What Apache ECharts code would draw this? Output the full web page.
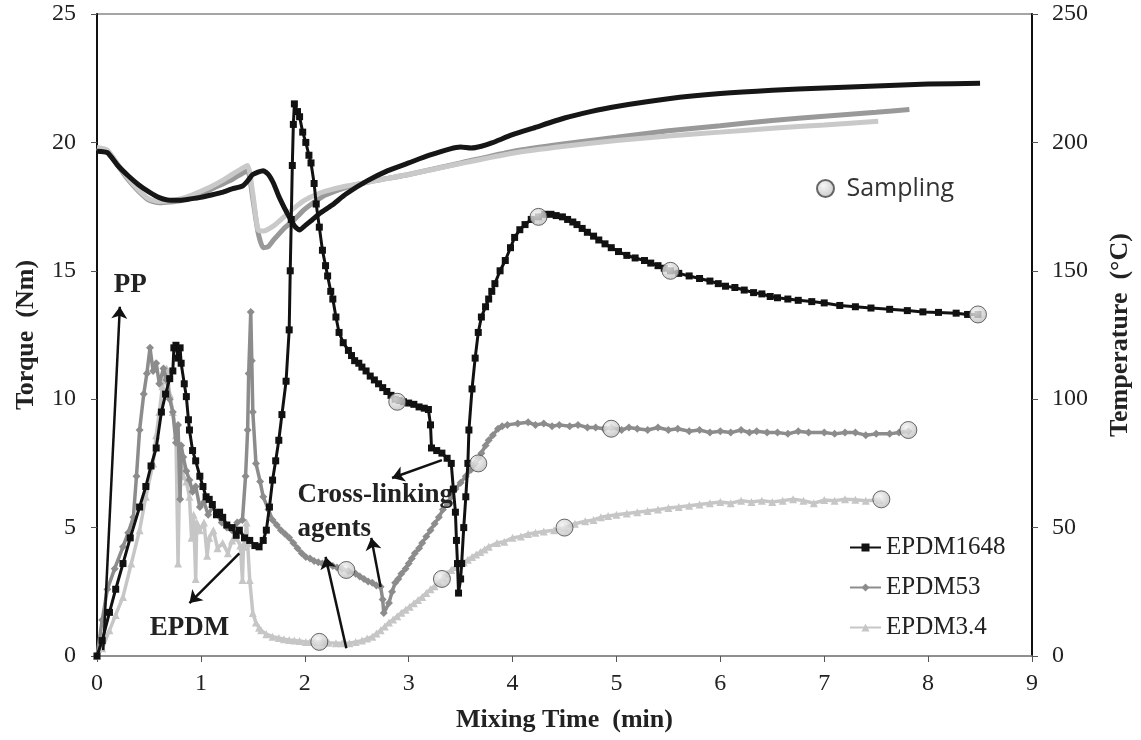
<!DOCTYPE html>
<html>
<head>
<meta charset="utf-8">
<script src="https://cdn.jsdelivr.net/npm/echarts@6/dist/echarts.min.js"></script>
<style>
  html, body { margin: 0; padding: 0; background: #fff; }
  #chart { width: 1141px; height: 740px; }
</style>
</head>
<body>
<div id="chart"></div>
<script>
// torque, [min, Nm]
var torque1648 = [[0,0],[0.05,0.6],[0.12,1.7],[0.18,2.6],[0.25,3.6],[0.32,4.6],[0.41,5.8],[0.47,6.6],[0.52,7.4],[0.57,8.1],[0.62,9.5],[0.66,10.2],[0.7,10.8],[0.73,11.1],[0.74,12.0],[0.76,12.1],[0.78,11.6],[0.8,12.0],[0.81,11.4],[0.84,10.6],[0.86,10.1],[0.88,9.2],[0.89,8.8],[0.92,8.0],[0.95,7.6],[0.99,7.0],[1.02,6.6],[1.05,6.2],[1.08,6.1],[1.11,5.9],[1.15,5.5],[1.18,5.6],[1.21,5.4],[1.25,5.1],[1.3,5.0],[1.34,4.7],[1.37,4.9],[1.42,4.6],[1.47,4.5],[1.52,4.3],[1.56,4.25],[1.6,4.5],[1.63,4.9],[1.66,5.8],[1.69,6.85],[1.72,7.6],[1.75,8.4],[1.78,9.4],[1.82,10.7],[1.85,12.7],[1.86,15.0],[1.87,17.0],[1.88,19.1],[1.89,20.7],[1.9,21.5],[1.93,21.2],[1.95,21.0],[1.98,20.4],[2.01,20.0],[2.04,19.5],[2.06,19.2],[2.09,18.4],[2.11,17.6],[2.14,16.7],[2.17,15.8],[2.2,15.2],[2.22,14.8],[2.25,14.2],[2.27,13.9],[2.3,13.2],[2.33,12.6],[2.37,12.2],[2.42,11.9],[2.45,11.7],[2.48,11.5],[2.52,11.4],[2.55,11.25],[2.59,11.1],[2.63,10.9],[2.67,10.75],[2.71,10.6],[2.75,10.45],[2.79,10.3],[2.83,10.15],[2.87,10.0],[2.91,9.95],[2.95,9.9],[3.0,9.85],[3.05,9.8],[3.1,9.7],[3.15,9.65],[3.19,9.6],[3.21,9.0],[3.22,8.1],[3.27,8.0],[3.32,7.9],[3.37,7.7],[3.41,7.5],[3.43,6.5],[3.45,5.6],[3.46,4.5],[3.47,3.6],[3.48,2.45],[3.5,3.0],[3.51,3.6],[3.53,5.0],[3.55,6.2],[3.57,7.5],[3.58,8.8],[3.61,10.4],[3.64,11.6],[3.67,12.6],[3.7,13.2],[3.74,13.6],[3.77,13.9],[3.8,14.2],[3.83,14.5],[3.88,15.0],[3.93,15.4],[3.98,15.9],[4.02,16.3],[4.07,16.6],[4.12,16.8],[4.18,17.0],[4.25,17.1],[4.31,17.2],[4.37,17.2],[4.42,17.15],[4.48,17.1],[4.53,17.0],[4.58,16.9],[4.62,16.8],[4.67,16.65],[4.72,16.5],[4.78,16.35],[4.83,16.2],[4.89,16.05],[4.95,15.9],[5.02,15.75],[5.1,15.6],[5.18,15.5],[5.27,15.4],[5.33,15.3],[5.4,15.2],[5.46,15.1],[5.52,15.0],[5.6,14.9],[5.7,14.8],[5.8,14.7],[5.9,14.6],[5.98,14.5],[6.05,14.4],[6.14,14.35],[6.23,14.25],[6.32,14.15],[6.4,14.1],[6.48,14.0],[6.55,13.95],[6.65,13.9],[6.75,13.85],[6.88,13.8],[7.0,13.75],[7.15,13.65],[7.3,13.6],[7.45,13.55],[7.63,13.5],[7.8,13.45],[7.95,13.4],[8.1,13.38],[8.27,13.35],[8.38,13.3],[8.48,13.3]];

var torque53 = [[0,0],[0.05,1.4],[0.1,2.6],[0.17,3.4],[0.25,4.25],[0.3,4.8],[0.35,5.4],[0.38,7.0],[0.41,8.8],[0.45,10.2],[0.48,11.0],[0.51,12.0],[0.54,11.1],[0.57,11.4],[0.6,10.6],[0.64,11.2],[0.67,10.75],[0.7,10.0],[0.73,9.5],[0.76,8.3],[0.78,9.0],[0.8,6.1],[0.81,8.2],[0.83,7.75],[0.86,7.2],[0.89,6.85],[0.92,6.4],[0.95,6.6],[0.99,5.8],[1.03,6.0],[1.07,5.5],[1.11,5.8],[1.15,5.56],[1.2,5.2],[1.25,5.0],[1.3,4.9],[1.35,5.2],[1.4,5.3],[1.43,7.0],[1.45,8.8],[1.46,11.0],[1.48,13.4],[1.49,11.5],[1.5,9.5],[1.53,7.5],[1.57,6.8],[1.6,6.2],[1.65,5.7],[1.69,5.3],[1.73,5.1],[1.77,4.9],[1.81,4.75],[1.85,4.6],[1.89,4.4],[1.93,4.2],[1.97,4.0],[2.01,3.86],[2.05,3.8],[2.09,3.7],[2.13,3.65],[2.17,3.6],[2.22,3.55],[2.27,3.5],[2.31,3.45],[2.36,3.4],[2.42,3.3],[2.49,3.2],[2.53,3.1],[2.57,3.0],[2.61,2.9],[2.65,2.85],[2.69,2.75],[2.73,2.7],[2.75,2.2],[2.76,1.67],[2.81,2.06],[2.84,2.5],[2.87,2.85],[2.9,3.0],[2.93,3.2],[2.97,3.4],[3.0,3.6],[3.03,3.8],[3.06,4.0],[3.1,4.2],[3.13,4.4],[3.17,4.65],[3.21,4.9],[3.25,5.15],[3.29,5.4],[3.33,5.7],[3.37,5.95],[3.41,6.2],[3.45,6.5],[3.5,6.75],[3.55,7.0],[3.6,7.25],[3.64,7.5],[3.67,7.7],[3.7,7.9],[3.74,8.2],[3.77,8.4],[3.81,8.6],[3.86,8.85],[3.9,8.95],[3.95,9.0],[4.05,9.05],[4.15,9.1],[4.22,9.0],[4.3,9.05],[4.38,8.95],[4.45,9.0],[4.55,8.95],[4.63,9.0],[4.72,8.9],[4.8,8.9],[4.88,8.85],[4.95,8.9],[5.05,8.8],[5.12,8.9],[5.2,8.85],[5.3,8.8],[5.4,8.9],[5.5,8.8],[5.59,8.85],[5.7,8.75],[5.8,8.8],[5.9,8.7],[6.0,8.75],[6.1,8.7],[6.2,8.8],[6.28,8.7],[6.35,8.75],[6.45,8.7],[6.55,8.7],[6.65,8.65],[6.75,8.75],[6.85,8.7],[7.0,8.7],[7.1,8.65],[7.2,8.7],[7.3,8.7],[7.4,8.6],[7.5,8.65],[7.63,8.65],[7.72,8.7],[7.81,8.75]];

var torque34 = [[0,0],[0.05,0.3],[0.12,1.0],[0.18,1.6],[0.25,2.3],[0.33,3.6],[0.41,4.9],[0.47,6.2],[0.54,7.5],[0.57,8.6],[0.6,9.5],[0.63,10.5],[0.67,11.2],[0.7,10.2],[0.73,9.5],[0.76,8.6],[0.78,3.6],[0.8,8.1],[0.83,7.0],[0.86,6.8],[0.89,6.2],[0.91,4.6],[0.93,5.5],[0.95,3.0],[0.96,5.2],[0.99,4.9],[1.03,5.2],[1.06,3.9],[1.08,4.6],[1.12,4.9],[1.16,4.2],[1.21,4.4],[1.26,4.0],[1.3,4.5],[1.34,4.6],[1.38,4.3],[1.4,2.96],[1.41,4.25],[1.43,4.8],[1.44,5.2],[1.45,4.4],[1.47,2.96],[1.5,1.67],[1.53,1.3],[1.56,1.1],[1.58,1.0],[1.63,0.85],[1.69,0.75],[1.75,0.7],[1.8,0.65],[1.85,0.62],[1.9,0.6],[1.95,0.58],[2.01,0.55],[2.05,0.55],[2.1,0.55],[2.17,0.55],[2.23,0.52],[2.3,0.5],[2.36,0.5],[2.43,0.5],[2.49,0.55],[2.55,0.6],[2.6,0.68],[2.65,0.75],[2.69,0.88],[2.73,1.0],[2.77,1.15],[2.81,1.3],[2.85,1.42],[2.89,1.55],[2.93,1.68],[2.97,1.8],[3.01,1.92],[3.05,2.05],[3.09,2.18],[3.13,2.3],[3.17,2.45],[3.21,2.6],[3.25,2.72],[3.29,2.85],[3.33,3.05],[3.37,3.2],[3.41,3.35],[3.45,3.47],[3.49,3.55],[3.53,3.65],[3.57,3.75],[3.61,3.86],[3.65,3.95],[3.69,4.05],[3.73,4.15],[3.77,4.25],[3.85,4.4],[3.92,4.45],[4.0,4.6],[4.08,4.65],[4.15,4.75],[4.22,4.8],[4.3,4.85],[4.4,4.9],[4.5,5.0],[4.6,5.15],[4.7,5.25],[4.78,5.3],[4.85,5.4],[4.92,5.45],[5.0,5.5],[5.1,5.55],[5.2,5.6],[5.3,5.65],[5.4,5.7],[5.5,5.76],[5.6,5.8],[5.7,5.85],[5.8,5.9],[5.9,5.95],[6.0,6.0],[6.1,5.95],[6.2,6.05],[6.3,6.0],[6.4,6.05],[6.5,6.0],[6.6,6.05],[6.7,6.1],[6.8,6.05],[6.9,5.95],[7.0,6.07],[7.1,6.05],[7.2,6.1],[7.3,6.08],[7.4,6.05],[7.53,6.07]];

// temperature, [min, °C]
var temp1648 = [[0,196.6],[0.1,196],[0.2,191],[0.3,187],[0.4,183.5],[0.5,180.7],[0.6,178.5],[0.7,177.5],[0.8,177.5],[0.9,178],[1.0,178.6],[1.1,179.5],[1.2,180.5],[1.3,181.9],[1.4,183],[1.45,185],[1.5,187.5],[1.6,189],[1.65,187.5],[1.7,184],[1.75,179],[1.8,174.8],[1.85,171],[1.9,167.5],[1.95,165.9],[2.0,167.5],[2.07,169.8],[2.15,172.5],[2.26,175.5],[2.4,180],[2.6,185],[2.8,189],[3.0,192],[3.2,195],[3.4,197.5],[3.5,198.2],[3.6,197.8],[3.7,198.5],[3.8,199.8],[4.0,203],[4.2,205.6],[4.5,209.5],[4.75,212],[5.0,214],[5.5,217],[6.0,219],[6.5,220.3],[7.0,221.2],[7.5,222],[8.0,222.7],[8.5,223]];

var temp53 = [[0,197.8],[0.1,196.5],[0.2,191],[0.3,185.5],[0.4,181],[0.5,177.5],[0.6,176.5],[0.7,176.8],[0.8,177.3],[0.9,178.5],[1.0,180],[1.1,181.8],[1.2,183.6],[1.3,185.5],[1.4,188],[1.45,189],[1.5,178],[1.55,165],[1.6,159],[1.65,159.5],[1.7,162],[1.8,166.5],[1.9,170],[2.0,174],[2.1,177],[2.2,179.5],[2.4,182.5],[2.6,184.5],[2.8,186],[3.0,187.5],[3.5,192],[4.0,196.5],[4.5,199.5],[5.0,202],[5.5,204.5],[6.0,206.5],[6.5,208.5],[7.0,210.2],[7.5,211.7],[7.82,212.8]];

var temp34 = [[0,198],[0.1,197],[0.2,191.5],[0.3,186],[0.4,181.5],[0.5,178],[0.6,177],[0.7,177.3],[0.8,178],[0.9,179.3],[1.0,181],[1.1,182.8],[1.2,185],[1.3,187.5],[1.4,190],[1.45,191],[1.5,180],[1.55,166],[1.6,165.5],[1.7,167.5],[1.8,171],[1.9,174.5],[2.0,177.5],[2.1,179.5],[2.2,181],[2.4,183],[2.6,184.5],[2.8,186],[3.0,187.5],[3.5,191.8],[4.0,195.8],[4.5,198.5],[5.0,200.7],[5.5,202.5],[6.0,204],[6.5,205.5],[7.0,206.8],[7.52,208.2]];

var sampling = [[2.89,9.9],[4.25,17.1],[5.52,15.0],[8.48,13.3],[2.4,3.35],[3.67,7.5],[4.95,8.85],[7.81,8.8],[2.14,0.55],[3.32,3.0],[4.5,5.0],[7.55,6.1]];

var xTicks = [0, 9, 1];
var torqueTicks = [0, 25, 5];
var tempTicks = [0, 250, 50];

var serif = '"Liberation Serif", "DejaVu Serif", serif';

var myChart = echarts.init(document.getElementById('chart'));

function arrow(a, b) {
    return [{ coord: a }, { coord: b }];
}

var tickText = { fontFamily: serif, fontSize: 24, color: '#222' };
var nameText = { fontFamily: serif, fontSize: 26, fontWeight: 'bold', color: '#222' };

option = {
    animation: false,
    backgroundColor: '#fff',
    grid: {
        left: 97,
        right: 105,
        top: 14,
        bottom: 84,
        show: true,
        borderColor: '#888',
        borderWidth: 1.5
    },
    legend: [{
        data: ['EPDM1648', 'EPDM53', 'EPDM3.4'],
        orient: 'vertical',
        left: 844,
        top: 530,
        itemWidth: 31,
        itemHeight: 10,
        itemGap: 15,
        textStyle: { fontFamily: serif, fontSize: 25, lineHeight: 25, color: '#222' }
    }, {
        data: ['Sampling'],
        left: 811,
        top: 171,
        itemWidth: 32,
        itemHeight: 17,
        itemGap: 0,
        textStyle: { fontFamily: '"Open Sans", "Liberation Sans", sans-serif', fontSize: 25, color: '#333' }
    }],
    xAxis: {
        type: 'value',
        min: xTicks[0],
        max: xTicks[1],
        interval: xTicks[2],
        name: 'Mixing Time  (min)',
        nameLocation: 'middle',
        nameGap: 51,
        nameTextStyle: nameText,
        axisLine: { lineStyle: { color: '#888', width: 1.5 } },
        axisTick: { length: 6, lineStyle: { color: '#555' } },
        axisLabel: Object.assign({ margin: 16 }, tickText),
        splitLine: { show: false }
    },
    yAxis: [{
        type: 'value',
        min: torqueTicks[0],
        max: torqueTicks[1],
        interval: torqueTicks[2],
        name: 'Torque  (Nm)',
        nameLocation: 'middle',
        nameRotate: 90,
        nameGap: 58,
        nameTextStyle: nameText,
        axisLine: { show: true, lineStyle: { color: '#111', width: 2 } },
        axisTick: { show: true, length: 6, lineStyle: { color: '#555' } },
        axisLabel: Object.assign({ margin: 21 }, tickText),
        splitLine: { show: false }
    }, {
        type: 'value',
        position: 'right',
        min: tempTicks[0],
        max: tempTicks[1],
        interval: tempTicks[2],
        name: 'Temperature  (°C)',
        nameLocation: 'middle',
        nameRotate: 90,
        nameGap: 75,
        nameTextStyle: nameText,
        axisLine: { show: true, lineStyle: { color: '#111', width: 2 } },
        axisTick: { show: true, length: 6, lineStyle: { color: '#555' } },
        axisLabel: Object.assign({ margin: 20 }, tickText),
        splitLine: { show: false }
    }],
    series: [
        // temperature curves
        {
            name: 'EPDM53 T',
            type: 'line',
            yAxisIndex: 1,
            data: temp53,
            showSymbol: false,
            smooth: 0.2,
            lineStyle: { color: '#999', width: 5 },
            itemStyle: { color: '#999' },
            z: 2
        },
        {
            name: 'EPDM3.4 T',
            type: 'line',
            yAxisIndex: 1,
            data: temp34,
            showSymbol: false,
            smooth: 0.2,
            lineStyle: { color: '#c9c9c9', width: 5 },
            itemStyle: { color: '#c9c9c9' },
            z: 2
        },
        {
            name: 'EPDM1648 T',
            type: 'line',
            yAxisIndex: 1,
            data: temp1648,
            showSymbol: false,
            smooth: 0.2,
            lineStyle: { color: '#161616', width: 5 },
            itemStyle: { color: '#161616' },
            z: 2
        },
        // torque curves
        {
            name: 'EPDM3.4',
            type: 'line',
            data: torque34,
            symbol: 'triangle',
            symbolSize: 8,
            showAllSymbol: true,
            lineStyle: { color: '#c6c6c6', width: 3.5 },
            itemStyle: { color: '#c6c6c6' },
            z: 3
        },
        {
            name: 'EPDM53',
            type: 'line',
            data: torque53,
            symbol: 'diamond',
            symbolSize: 8,
            showAllSymbol: true,
            lineStyle: { color: '#8c8c8c', width: 3.5 },
            itemStyle: { color: '#8c8c8c' },
            z: 4
        },
        {
            name: 'EPDM1648',
            type: 'line',
            data: torque1648,
            symbol: 'rect',
            symbolSize: 7,
            showAllSymbol: true,
            lineStyle: { color: '#111', width: 3 },
            itemStyle: { color: '#111' },
            z: 5
        },
        // annotations
        {
            name: 'notes',
            type: 'line',
            data: [],
            silent: true,
            z: 6,
            markLine: {
                silent: true,
                symbol: ['none', 'arrow'],
                symbolSize: 12,
                label: { show: false },
                lineStyle: { color: '#111', width: 2.5, type: 'solid' },
                data: [
                    arrow([0.06, 0.23], [0.22, 13.6]),
                    arrow([1.37, 4.0], [0.89, 2.06]),
                    arrow([3.32, 7.63], [2.84, 6.93]),
                    arrow([2.4, 0.3], [2.2, 3.86]),
                    arrow([2.73, 2.69], [2.64, 4.6])
                ]
            },
            markPoint: {
                silent: true,
                symbol: 'circle',
                symbolSize: 0,
                label: {
                    show: true,
                    fontFamily: serif,
                    fontSize: 27,
                    fontWeight: 'bold',
                    color: '#222'
                },
                data: [
                    { coord: [0.32, 14.45], label: { formatter: 'PP' } },
                    { coord: [0.89, 1.1], label: { formatter: 'EPDM' } },
                    { coord: [1.93, 6.3], label: { formatter: 'Cross-linking\nagents', align: 'left', lineHeight: 34, verticalAlign: 'top', offset: [0, -16] } }
                ]
            }
        },
        {
            name: 'Sampling',
            type: 'scatter',
            data: sampling,
            symbol: 'circle',
            symbolSize: 17,
            itemStyle: {
                color: new echarts.graphic.RadialGradient(0.4, 0.35, 0.7, [
                    { offset: 0, color: '#f4f4f4' },
                    { offset: 1, color: '#b9b9b9' }
                ]),
                borderColor: '#444',
                borderWidth: 1
            },
            z: 10
        }
    ]
};

myChart.setOption(option);
</script>
</body>
</html>
